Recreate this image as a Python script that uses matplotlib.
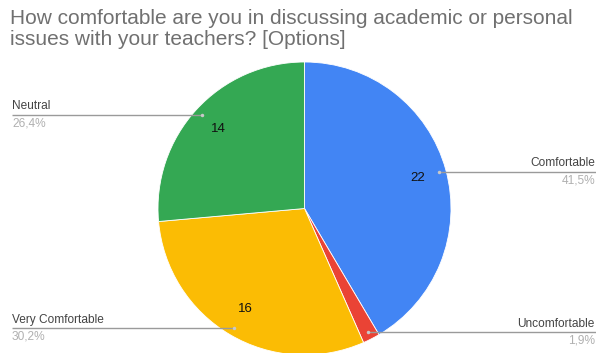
import numpy as np
import matplotlib.pyplot as plt

plt.rcParams['font.family'] = ['Liberation Sans', 'DejaVu Sans']

# survey answers
categories = ['Comfortable', 'Uncomfortable', 'Very Comfortable', 'Neutral']
counts = [22, 1, 16, 14]
colors = ['#4285F4', '#EA4335', '#FBBC04', '#34A853']
title = 'How comfortable are you in discussing academic or personal\nissues with your teachers? [Options]'

W, H = 596, 353
fig = plt.figure(figsize=(W / 100, H / 100), dpi=100)
ax = fig.add_axes([0, 0, 1, 1])

cx, cy, r = 304.5, 144.5, 146.5
wedges, _ = ax.pie(counts, colors=colors, startangle=90, counterclock=False,
                   center=(cx, cy), radius=r,
                   wedgeprops=dict(edgecolor='white', linewidth=0.6))

total = sum(counts)
for w, name, n in zip(wedges, categories, counts):
    mid = np.deg2rad((w.theta1 + w.theta2) / 2)
    dx, dy = np.cos(mid), np.sin(mid)
    pct = f'{100 * n / total:.1f}%'.replace('.', ',')

    # value inside the slice (skip tiny ones)
    if n / total > 0.05:
        ax.text(cx + 0.8 * r * dx, cy + 0.8 * r * dy, str(n), ha='center', va='center',
                fontsize=9.5, color='#111111')

    # leader line out to the side label
    ax_, ay_ = cx + 0.95 * r * dx, cy + 0.95 * r * dy
    if dx > 0:
        ax.plot([ax_, W], [ay_, ay_], color='#9a9a9a', lw=1, solid_capstyle='butt')
        tx, ha = 595, 'right'
    else:
        ax.plot([12, ax_], [ay_, ay_], color='#9a9a9a', lw=1, solid_capstyle='butt')
        tx, ha = 12, 'left'
    ax.plot(ax_, ay_, 'o', ms=2.5, color='#c8c8c8', mec='none')
    ax.text(tx, ay_ + 2.5, name, ha=ha, va='bottom', fontsize=8.6, color='#444444')
    ax.text(tx, ay_ - 2.5, pct, ha=ha, va='top', fontsize=8.6, color='#b0b0b0')

ax.text(10, H - 9, title, ha='left', va='top', fontsize=15, color='#707070',
        linespacing=1.12)

ax.set_xlim(0, W)
ax.set_ylim(0, H)
ax.set_aspect('auto')
ax.axis('off')

fig.savefig('out.png', dpi=100)
